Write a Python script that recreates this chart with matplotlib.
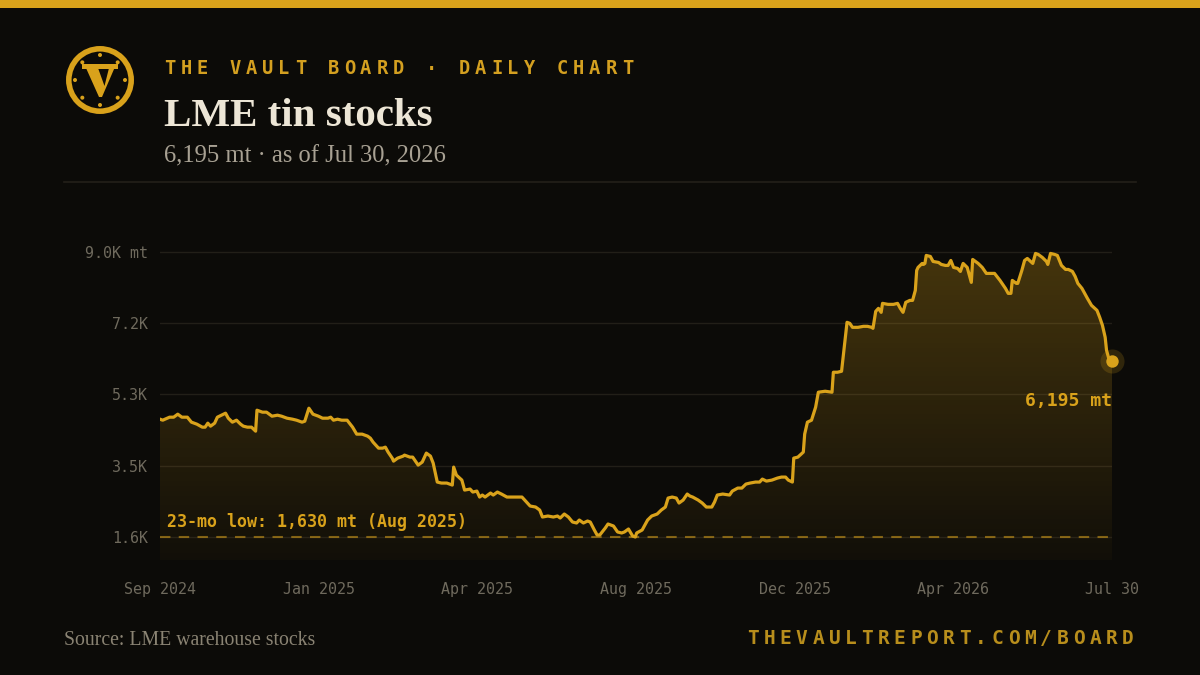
import numpy as np
import matplotlib
matplotlib.use("Agg")
import matplotlib.pyplot as plt
from matplotlib.patches import Polygon, Circle, Rectangle

# days since Sep 1, 2024 and LME tin stocks (mt)
days = [0, 2, 7, 10, 13, 16, 20, 23, 27, 31, 33, 35, 37, 40, 42, 45, 48, 50, 53, 56,
        59, 61, 64, 67, 70, 71, 75, 78, 82, 86, 89, 93, 97, 100, 104, 106, 109, 112, 116, 119,
        123, 125, 127, 130, 133, 137, 141, 144, 148, 152, 154, 156, 160, 163, 165, 167, 170, 171, 174, 178,
        179, 183, 185, 189, 192, 195, 198, 200, 203, 206, 210, 214, 215, 217, 221, 223, 227, 229, 232, 234,
        236, 238, 242, 244, 247, 250, 254, 258, 262, 265, 267, 271, 275, 278, 280, 284, 288, 291, 293, 296,
        299, 302, 305, 307, 310, 313, 315, 318, 320, 322, 326, 328, 332, 335, 338, 340, 343, 346, 348, 349,
        353, 355, 357, 360, 364, 367, 370, 372, 375, 378, 380, 383, 386, 388, 390, 394, 397, 400, 404, 406,
        408, 412, 417, 419, 423, 426, 429, 432, 436, 439, 441, 444, 448, 452, 455, 458, 460, 463, 464, 467,
        471, 472, 474, 477, 480, 482, 487, 492, 493, 496, 499, 503, 505, 507, 511, 515, 518, 521, 522, 524,
        526, 528, 529, 533, 537, 540, 542, 544, 546, 549, 551, 553, 554, 555, 558, 559, 560, 561, 564, 566,
        570, 572, 575, 577, 579, 581, 584, 586, 588, 591, 594, 595, 599, 602, 605, 609, 611, 615, 619, 621,
        623, 624, 627, 628, 631, 633, 635, 639, 641, 643, 646, 649, 650, 652, 655, 657, 660, 663, 665, 668,
        670, 672, 675, 677, 679, 682, 686, 688, 690, 692, 693, 695, 697]
stocks = [4686, 4660, 4738, 4738, 4816, 4738, 4738, 4609, 4557, 4479, 4479, 4583, 4505, 4583, 4738, 4790, 4842, 4712, 4609, 4660,
          4557, 4505, 4479, 4479, 4375, 4919, 4868, 4868, 4764, 4790, 4764, 4712, 4686, 4660, 4609, 4634, 4971, 4816, 4764, 4712,
          4712, 4738, 4660, 4686, 4660, 4660, 4479, 4298, 4298, 4246, 4194, 4091, 3935, 3935, 3961, 3832, 3676, 3598, 3676, 3728,
          3754, 3702, 3702, 3495, 3573, 3806, 3728, 3547, 3055, 3029, 3029, 2977, 3443, 3236, 3106, 2847, 2873, 2796, 2821, 2666,
          2718, 2666, 2770, 2718, 2796, 2744, 2666, 2666, 2666, 2666, 2588, 2433, 2407, 2329, 2148, 2174, 2148, 2174, 2122, 2226,
          2148, 2019, 1993, 2070, 1993, 2044, 2019, 1811, 1682, 1682, 1863, 1967, 1915, 1760, 1734, 1760, 1837, 1656, 1630, 1734,
          1811, 1941, 2070, 2174, 2226, 2329, 2407, 2640, 2666, 2640, 2511, 2588, 2744, 2692, 2666, 2588, 2511, 2407, 2407, 2537,
          2718, 2744, 2718, 2821, 2899, 2899, 3003, 3029, 3055, 3055, 3132, 3080, 3106, 3158, 3184, 3184, 3106, 3055, 3676, 3702,
          3832, 4300, 4609, 4660, 4997, 5386, 5411, 5386, 5904, 5904, 5929, 7199, 7173, 7069, 7069, 7095, 7095, 7069, 7043, 7483,
          7561, 7458, 7691, 7665, 7665, 7691, 7561, 7458, 7717, 7768, 7768, 8027, 8545, 8623, 8727, 8701, 8727, 8934, 8908, 8778,
          8752, 8701, 8675, 8675, 8804, 8623, 8597, 8519, 8727, 8623, 8235, 8830, 8727, 8623, 8468, 8468, 8468, 8286, 8079, 7950,
          7950, 8286, 8209, 8209, 8545, 8804, 8856, 8727, 8986, 8960, 8882, 8778, 8701, 8986, 8960, 8934, 8675, 8571, 8571, 8519,
          8390, 8209, 8079, 7950, 7820, 7639, 7509, 7328, 7121, 6810, 6473, 6214, 6195]

y_ticks = [1630, 3478, 5327, 7175, 9023]
y_labels = ["1.6K", "3.5K", "5.3K", "7.2K", "9.0K mt"]
x_labels = ["Sep 2024", "Jan 2025", "Apr 2025", "Aug 2025", "Dec 2025", "Apr 2026", "Jul 30"]
low_value = 1630
last_value = 6195

BG = "#0c0b08"
GOLD = "#d9a21b"
GRID = "#221f18"
TICK = "#6f6a5d"
MONO = "DejaVu Sans Mono"
SERIF = "Liberation Serif"

fig = plt.figure(figsize=(12, 6.75), dpi=100, facecolor=BG)

# chart axes, pixel box 160..1112 x 230..560
ax = fig.add_axes([160 / 1200, (675 - 560) / 675, 952 / 1200, 330 / 675])
ax.set_facecolor(BG)
ymin, ymax = 1033, 9594
x_end = days[-1]
ax.set_xlim(0, x_end)
ax.set_ylim(ymin, ymax)
for s in ax.spines.values():
    s.set_visible(False)

for t in y_ticks:
    ax.axhline(t, color=GRID, lw=1, zorder=1)

# gradient fill under the line
grad = np.linspace(0, 1, 256).reshape(-1, 1)
rgba = np.zeros((256, 1, 4))
rgba[..., 0], rgba[..., 1], rgba[..., 2] = 0.85, 0.635, 0.105
rgba[..., 3] = 0.03 + 0.27 * grad
im = ax.imshow(rgba, extent=[0, x_end, ymin, ymax], origin="lower",
               aspect="auto", zorder=2, interpolation="bilinear")
verts = [(days[0], ymin)] + list(zip(days, stocks)) + [(days[-1], ymin)]
poly = Polygon(verts, closed=True, facecolor="none", edgecolor="none")
ax.add_patch(poly)
im.set_clip_path(poly)

ax.plot(days, stocks, color=GOLD, lw=2.3, zorder=4, solid_joinstyle="round")

# low line
ax.axhline(low_value, color=GOLD, alpha=0.55, lw=1.5, dashes=(5, 4), zorder=3)
ax.text(5, low_value + 380, "23-mo low: 1,630 mt (Aug 2025)", color=GOLD,
        fontsize=12, fontweight="bold", family=MONO, va="center", ha="left", zorder=5)

# end point
ax.scatter([days[-1]], [last_value], s=300, color=GOLD, alpha=0.18, lw=0, zorder=5, clip_on=False)
ax.scatter([days[-1]], [last_value], s=80, color=GOLD, lw=0, zorder=6, clip_on=False)
ax.text(days[-1], last_value - 1030, "6,195 mt", color=GOLD, fontsize=13,
        fontweight="bold", family=MONO, ha="right", va="center", zorder=6)

ax.set_yticks(y_ticks)
ax.set_yticklabels(y_labels, family=MONO, fontsize=10.8, color=TICK)
ax.set_xticks(np.linspace(0, x_end, len(x_labels)))
ax.set_xticklabels(x_labels, family=MONO, fontsize=10.8, color=TICK)
ax.tick_params(axis="y", length=0, pad=8.6)
ax.tick_params(axis="x", length=0, pad=15.5)

# overlay in pixel coordinates for header, footer and logo
ov = fig.add_axes([0, 0, 1, 1], zorder=10)
ov.set_xlim(0, 1200)
ov.set_ylim(675, 0)
ov.axis("off")
ov.patch.set_alpha(0)

ov.add_patch(Rectangle((0, 0), 1200, 8, color=GOLD, lw=0))
ov.plot([64, 1136], [182, 182], color="#23201a", lw=1.2)

# logo
ov.add_patch(Circle((100, 80), 31.2, fill=False, ec=GOLD, lw=4.0))
for a in np.arange(0, 360, 45):
    r = np.deg2rad(a)
    ov.add_patch(Circle((100 + 25 * np.sin(r), 80 - 25 * np.cos(r)), 2.0, color=GOLD, lw=0))
ov.add_patch(Rectangle((82, 64), 36, 5, color=GOLD, lw=0))
ov.add_patch(Polygon([(86, 68), (98, 68), (104.5, 86), (109, 68), (114.5, 68),
                      (102, 97), (99, 97)], closed=True, color=GOLD, lw=0))


def spaced(x0, y, text, step, **kw):
    for i, ch in enumerate(text):
        ov.text(x0 + i * step, y, ch, ha="left", va="center", **kw)


spaced(164, 69, "THE VAULT BOARD · DAILY CHART", 16.35, family=MONO,
       fontweight="bold", fontsize=13.5, color="#d4a020")
ov.text(164, 126, "LME tin stocks", family=SERIF, fontweight="bold", fontsize=29.5,
        color="#ede6d6", va="baseline", ha="left")
ov.text(164, 162, "6,195 mt · as of Jul 30, 2026", family=SERIF, fontsize=17.7,
        color="#a8a193", va="baseline", ha="left")

ov.text(64, 645, "Source: LME warehouse stocks", family=SERIF, fontsize=14.2,
        color="#8a8373", va="baseline", ha="left")
spaced(747, 638, "THEVAULTREPORT.COM/BOARD", 16.3, family=MONO,
       fontweight="bold", fontsize=14, color="#b88e1c")

fig.savefig("out.png", dpi=100, facecolor=BG)
